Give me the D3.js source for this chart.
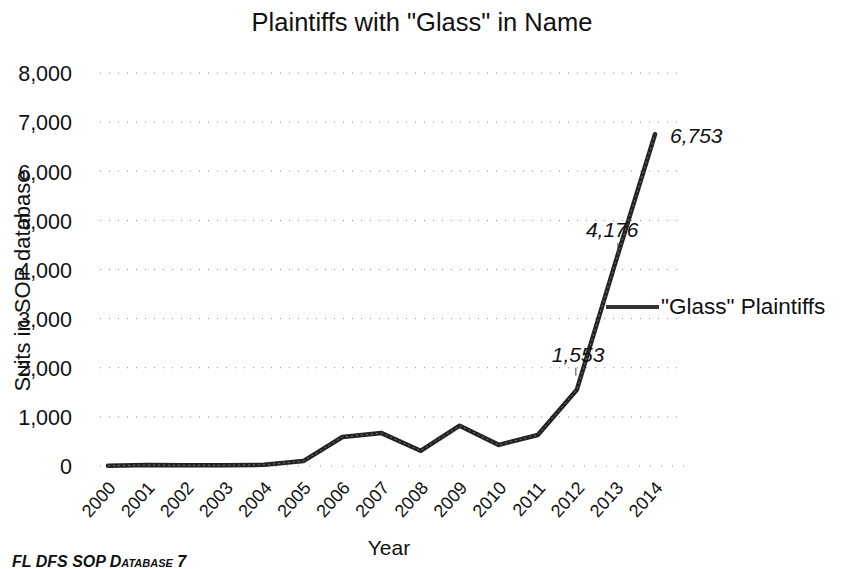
<!DOCTYPE html>
<html><head><meta charset="utf-8">
<script src="https://cdn.jsdelivr.net/npm/d3@7"></script>
<style>
body{margin:0;background:#fff;}
text{font-family:"Liberation Sans",Arial,sans-serif;fill:#111;}
</style></head>
<body><svg id="c" width="843" height="569"></svg>
<script>
const years = ["2000","2001","2002","2003","2004","2005","2006","2007","2008","2009","2010","2011","2012","2013","2014"];
const suits = [5,20,15,15,25,100,590,670,310,820,430,630,1553,4176,6753];
const labeledYears = ["2012","2013","2014"];
const yTicks = [0,1000,2000,3000,4000,5000,6000,7000,8000];
const seriesName = "\"Glass\" Plaintiffs";

const svg = d3.select("#c");
const x = d3.scalePoint().domain(years).range([108,655]);
const y = d3.scaleLinear().domain([0,8000]).range([466,73]);
const FF = "Liberation Sans, Arial, sans-serif";

// gridlines
svg.append("g").selectAll("line").data(yTicks.filter(d=>d>0)).join("line")
  .attr("x1",100).attr("x2",685).attr("y1",d=>y(d)).attr("y2",d=>y(d))
  .attr("stroke","#8a8a8a").attr("stroke-width",1).attr("stroke-dasharray","1,8");
svg.append("line").attr("x1",100).attr("x2",685).attr("y1",y(0)).attr("y2",y(0))
  .attr("stroke","#8a8a8a").attr("stroke-width",1).attr("stroke-dasharray","1,10");

// y axis
const ya = svg.append("g").attr("transform","translate(72,0)")
  .call(d3.axisLeft(y).tickValues(yTicks).tickSize(0).tickPadding(0).tickFormat(d3.format(",")));
ya.select(".domain").remove();
ya.selectAll("text").attr("font-size",21.5).attr("font-family",FF).attr("fill","#111").attr("dy","0.36em");

// x axis
const xa = svg.append("g")
  .call(d3.axisBottom(x).tickSize(0).tickPadding(0));
xa.select(".domain").remove();
xa.selectAll(".tick").attr("transform",d=>`translate(${x(d)-1},480)`);
xa.selectAll("text").attr("font-size",18).attr("font-family",FF).attr("fill","#111")
  .attr("text-anchor","end").attr("x",0).attr("y",0).attr("dy","0.72em")
  .attr("transform","rotate(-48)");

// line
const line = d3.line().x((d,i)=>x(years[i])).y(d=>y(d));
svg.append("path").datum(suits).attr("d",line).attr("fill","none")
  .attr("stroke","#222").attr("stroke-width",4.5).attr("stroke-linejoin","round").attr("stroke-linecap","round");
svg.append("path").datum(suits).attr("d",line).attr("fill","none")
  .attr("stroke","#777").attr("stroke-width",1).attr("stroke-dasharray","2,3");

// data labels
const lab = labeledYears.map(yr=>({yr, v: suits[years.indexOf(yr)]}));
const offs = {"2012":[-25,-28],"2013":[-30,-24],"2014":[15,9]};
svg.append("g").selectAll("text").data(lab).join("text")
  .attr("x",d=>x(d.yr)+offs[d.yr][0]).attr("y",d=>y(d.v)+offs[d.yr][1])
  .attr("font-size",21).attr("font-style","italic").text(d=>d3.format(",")(d.v));
// leader ticks
svg.append("line").attr("x1",x("2012")-1).attr("x2",x("2012")-1).attr("y1",y(1553)-22).attr("y2",y(1553)-14).attr("stroke","#444").attr("stroke-width",1);
svg.append("line").attr("x1",x("2013")+2).attr("x2",x("2013")+2).attr("y1",y(4176)-18).attr("y2",y(4176)-8).attr("stroke","#444").attr("stroke-width",1);

// legend
svg.append("line").attr("x1",606).attr("x2",659).attr("y1",307).attr("y2",307).attr("stroke","#333").attr("stroke-width",4);
svg.append("text").attr("x",661).attr("y",314).attr("font-size",22.5).text(seriesName);

// title
svg.append("text").attr("x",422).attr("y",31).attr("text-anchor","middle").attr("font-size",25.5).text("Plaintiffs with \"Glass\" in Name");
// axis titles
svg.append("text").attr("x",389).attr("y",555).attr("text-anchor","middle").attr("font-size",21).text("Year");
svg.append("text").attr("transform","translate(30,281) rotate(-90)").attr("text-anchor","middle").attr("font-size",22).text("Suits in SOP database");
// footer
svg.append("text").attr("x",12).attr("y",567).attr("font-size",16).attr("font-weight","bold").attr("font-style","italic")
  .attr("font-variant","small-caps").text("FL DFS SOP Database 7");
</script></body></html>
